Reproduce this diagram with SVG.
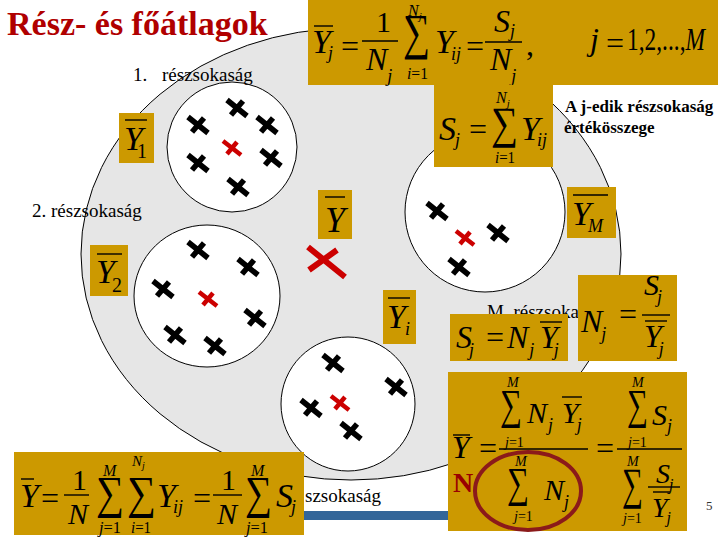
<svg xmlns="http://www.w3.org/2000/svg" xmlns:xlink="http://www.w3.org/1999/xlink" width="720" height="540" viewBox="0 0 720 540">
<style>
.box{fill:#CC9900}
.f{font-family:"Liberation Serif","Times New Roman",serif;fill:#000}
.i{font-style:italic}
.n{font-style:normal}
.bar{stroke:#000;stroke-width:1.4}
.lbl{font-family:"Liberation Serif","Times New Roman",serif;font-size:19px;fill:#000}
.lb{font-family:"Liberation Serif","Times New Roman",serif;font-weight:bold;font-size:17px;fill:#000}
.sub{fill:#fff;stroke:#000;stroke-width:1}
</style>
<defs>
<g id="bx"><path d="M-10,-8L10,8M-6,7L6,-7" stroke="#000" stroke-width="5.5"/></g>
<g id="rx"><path d="M-9,-7L9,7M-5,6L5,-6" stroke="#CC0000" stroke-width="4.5"/></g>
</defs>
<rect width="720" height="540" fill="#fff"/>
<g id="population">
<ellipse cx="351" cy="254" rx="270" ry="226" fill="#E6E6E6" stroke="#000" stroke-width="1"/>
</g>
<g id="title"><text x="7" y="35" font-family="Liberation Serif, serif" font-weight="bold" font-size="34" fill="#B00000">Rész- és főátlagok</text></g>
<g id="sub1">
<circle class="sub" cx="232" cy="147" r="65"/>
<use xlink:href="#bx" x="237" y="108"/><use xlink:href="#bx" x="198" y="125"/><use xlink:href="#bx" x="267" y="125"/>
<use xlink:href="#rx" x="232" y="148"/><use xlink:href="#bx" x="198" y="163"/><use xlink:href="#bx" x="271" y="158"/><use xlink:href="#bx" x="238" y="187"/>
</g>
<g id="sub2">
<ellipse class="sub" cx="207" cy="296" rx="73" ry="71"/>
<use xlink:href="#bx" x="198" y="250"/><use xlink:href="#bx" x="248" y="267"/><use xlink:href="#bx" x="163" y="289"/>
<use xlink:href="#rx" x="208" y="299"/><use xlink:href="#bx" x="255" y="318"/><use xlink:href="#bx" x="175" y="335"/><use xlink:href="#bx" x="215" y="346"/>
</g>
<g id="subM">
<circle class="sub" cx="485" cy="212" r="80"/>
<use xlink:href="#bx" x="437" y="211"/><use xlink:href="#rx" x="465" y="238"/><use xlink:href="#bx" x="498" y="233"/><use xlink:href="#bx" x="459" y="267"/>
</g>
<g id="subI">
<circle class="sub" cx="348" cy="404" r="67"/>
<use xlink:href="#bx" x="333" y="363"/><use xlink:href="#bx" x="396" y="387"/><use xlink:href="#bx" x="311" y="408"/>
<use xlink:href="#rx" x="340" y="403"/><use xlink:href="#bx" x="351" y="431"/>
</g>
<g id="grandmean"><path d="M308,247L345,277M309,270L337,250" stroke="#CC0000" stroke-width="6"/></g>
<g id="labels">
<text class="lbl" x="133" y="81">1.</text><text class="lbl" x="162" y="81">részsokaság</text>
<text class="lb" x="565" y="112">A j-edik részsokaság</text>
<text class="lb" x="564" y="133">értékösszege</text>
<text class="lbl" x="32" y="217">2. részsokaság</text>
<text class="lbl" x="487" y="318">M. részsokas</text>
<text class="lbl" x="305" y="502">szsokaság</text>
</g>
<rect id="bluebar" x="303" y="511" width="147" height="9" fill="#336699"/>
<g id="f-top">
<rect class="box" x="308" y="0" width="410" height="85"/>
<line class="bar" x1="314" y1="26" x2="333" y2="26"/>
<text class="f i" x="312" y="53" font-size="34">Y<tspan dx="-3" dy="6" font-size="18">j</tspan></text>
<text class="f" x="341" y="57" font-size="32">=</text>
<text class="f" x="376" y="32" font-size="30">1</text><line class="bar" x1="362" y1="41" x2="398" y2="41"/>
<text class="f i" x="366" y="70" font-size="32">N<tspan dy="12" font-size="18">j</tspan></text>
<text class="f" x="403" y="49" font-size="50" textLength="27" lengthAdjust="spacingAndGlyphs">∑</text>
<text class="f i" x="408" y="16" font-size="16">N<tspan dy="4" font-size="11">j</tspan></text>
<text class="f" x="407" y="79" font-size="16" textLength="21" lengthAdjust="spacingAndGlyphs"><tspan class="i">i</tspan>=1</text>
<text class="f i" x="435" y="53" font-size="34">Y<tspan dx="-3" dy="7" font-size="18">ij</tspan></text>
<text class="f" x="466" y="57" font-size="32">=</text>
<text class="f i" x="494" y="32" font-size="32">S<tspan dy="5" font-size="18">j</tspan></text>
<line class="bar" x1="485" y1="42" x2="522" y2="42"/>
<text class="f i" x="490" y="70" font-size="32">N<tspan dy="12" font-size="18">j</tspan></text>
<text class="f" x="526" y="55" font-size="32">,</text>
<text class="f i" x="590" y="50" font-size="32">j</text>
<text class="f" x="606" y="54" font-size="32">=</text>
<text class="f" x="627" y="50" font-size="32" textLength="78" lengthAdjust="spacingAndGlyphs">1,2,...,<tspan class="i">M</tspan></text>
</g>
<g id="f-sj">
<rect class="box" x="434" y="85" width="119" height="82"/>
<text class="f i" x="439" y="140" font-size="34">S<tspan dx="-1" dy="6" font-size="18">j</tspan></text>
<text class="f" x="469" y="140" font-size="32">=</text>
<text class="f" x="491" y="138" font-size="45" textLength="27" lengthAdjust="spacingAndGlyphs">∑</text>
<text class="f i" x="496" y="103" font-size="16">N<tspan dy="4" font-size="11">j</tspan></text>
<text class="f" x="495" y="163" font-size="16" textLength="20" lengthAdjust="spacingAndGlyphs"><tspan class="i">i</tspan>=1</text>
<text class="f i" x="521" y="140" font-size="34">Y<tspan dx="-3" dy="6" font-size="18">ij</tspan></text>
</g>
<g id="f-y1"><rect class="box" x="119" y="113" width="35" height="50"/>
<line class="bar" x1="125" y1="120" x2="147" y2="120"/><text class="f i" x="124" y="150" font-size="34">Y<tspan class="n" dx="-6" dy="8" font-size="20">1</tspan></text></g>
<g id="f-y2"><rect class="box" x="90" y="245" width="38" height="51"/>
<line class="bar" x1="97" y1="254" x2="122" y2="254"/><text class="f i" x="96" y="283" font-size="34">Y<tspan class="n" dx="-3" dy="9" font-size="20">2</tspan></text></g>
<g id="f-y"><rect class="box" x="318" y="190" width="34" height="49"/>
<line class="bar" x1="325" y1="197" x2="345" y2="197"/><text class="f i" x="325" y="232" font-size="36">Y</text></g>
<g id="f-ym"><rect class="box" x="567" y="187" width="49" height="51"/>
<line class="bar" x1="573" y1="195" x2="608" y2="195"/><text class="f i" x="572" y="225" font-size="34">Y<tspan dx="-3" dy="7" font-size="18">M</tspan></text></g>
<g id="f-yi"><rect class="box" x="383" y="290" width="33" height="54"/>
<line class="bar" x1="388" y1="298" x2="410" y2="298"/><text class="f i" x="387" y="328" font-size="34">Y<tspan dx="-1" dy="7" font-size="18">i</tspan></text></g>
<g id="f-snj"><rect class="box" x="450" y="314" width="118" height="47"/>
<text class="f i" x="456" y="348" font-size="32">S<tspan dx="-3" dy="8" font-size="18">j</tspan></text>
<text class="f" x="486" y="348" font-size="32">=</text>
<text class="f i" x="507" y="348" font-size="32">N<tspan dx="1" dy="8" font-size="18">j</tspan></text>
<line class="bar" x1="540" y1="322" x2="562" y2="322"/>
<text class="f i" x="540" y="348" font-size="32">Y<tspan dx="-4" dy="8" font-size="18">j</tspan></text>
</g>
<g id="f-nj"><rect class="box" x="578" y="275" width="99" height="86"/>
<text class="f i" x="581" y="332" font-size="32">N<tspan dx="-1" dy="8" font-size="18">j</tspan></text>
<text class="f" x="619" y="325" font-size="32">=</text>
<text class="f i" x="644" y="295" font-size="30">S<tspan dx="-2" dy="8" font-size="18">j</tspan></text>
<line class="bar" x1="642" y1="315" x2="670" y2="315"/><line class="bar" x1="645" y1="321" x2="667" y2="321"/>
<text class="f i" x="644" y="347" font-size="32">Y<tspan dx="-3" dy="8" font-size="18">j</tspan></text>
</g>
<g id="f-grand"><rect class="box" x="14" y="452" width="290" height="83"/>
<line class="bar" x1="21" y1="479" x2="34" y2="479"/><text class="f i" x="20" y="507" font-size="34">Y</text>
<text class="f" x="41" y="509" font-size="32">=</text>
<text class="f" x="72" y="490" font-size="30">1</text><line class="bar" x1="64" y1="495" x2="89" y2="495"/><text class="f i" x="68" y="524" font-size="30">N</text>
<text class="f" x="96" y="508" font-size="46" textLength="28" lengthAdjust="spacingAndGlyphs">∑</text>
<text class="f i" x="103" y="476" font-size="16">M</text><text class="f" x="99" y="533" font-size="16" textLength="22" lengthAdjust="spacingAndGlyphs"><tspan class="i">j</tspan>=1</text>
<text class="f" x="127" y="508" font-size="46" textLength="29" lengthAdjust="spacingAndGlyphs">∑</text>
<text class="f i" x="132" y="466" font-size="15">N<tspan dy="3" font-size="10">j</tspan></text>
<text class="f" x="131" y="533" font-size="16" textLength="20" lengthAdjust="spacingAndGlyphs"><tspan class="i">i</tspan>=1</text>
<text class="f i" x="157" y="507" font-size="34">Y<tspan dx="-3" dy="6" font-size="18">ij</tspan></text>
<text class="f" x="193" y="509" font-size="32">=</text>
<text class="f" x="221" y="490" font-size="30">1</text><line class="bar" x1="213" y1="495" x2="242" y2="495"/><text class="f i" x="217" y="524" font-size="30">N</text>
<text class="f" x="245" y="508" font-size="46" textLength="27" lengthAdjust="spacingAndGlyphs">∑</text>
<text class="f i" x="251" y="476" font-size="16">M</text><text class="f" x="246" y="533" font-size="16" textLength="22" lengthAdjust="spacingAndGlyphs"><tspan class="i">j</tspan>=1</text>
<text class="f i" x="276" y="507" font-size="34">S<tspan dx="-2" dy="6" font-size="18">j</tspan></text>
</g>
<g id="f-weighted"><rect class="box" x="448" y="372" width="239" height="159"/>
<line class="bar" x1="453" y1="435" x2="470" y2="435"/><text class="f i" x="452" y="458" font-size="32">Y</text>
<text class="f" x="479" y="459" font-size="32">=</text>
<text class="f i" x="507" y="387" font-size="14">M</text>
<text class="f" x="500" y="419" font-size="43" textLength="22" lengthAdjust="spacingAndGlyphs">∑</text>
<text class="f" x="505" y="447" font-size="14"><tspan class="i">j</tspan>=1</text>
<text class="f i" x="527" y="423" font-size="30">N<tspan dx="1" dy="8" font-size="18">j</tspan></text>
<line class="bar" x1="562" y1="397" x2="582" y2="397"/>
<text class="f i" x="562" y="423" font-size="30">Y<tspan dx="-2" dy="8" font-size="18">j</tspan></text>
<line class="bar" x1="499" y1="449" x2="588" y2="449"/>
<text class="f i" x="515" y="466" font-size="14">M</text>
<text class="f" x="507" y="497" font-size="43" textLength="22" lengthAdjust="spacingAndGlyphs">∑</text>
<text class="f" x="514" y="521" font-size="14"><tspan class="i">j</tspan>=1</text>
<text class="f i" x="544" y="500" font-size="30">N<tspan dx="0" dy="8" font-size="18">j</tspan></text>
<text class="f" x="596" y="459" font-size="32">=</text>
<text class="f i" x="632" y="387" font-size="14">M</text>
<text class="f" x="627" y="419" font-size="43" textLength="21" lengthAdjust="spacingAndGlyphs">∑</text>
<text class="f" x="628" y="447" font-size="14"><tspan class="i">j</tspan>=1</text>
<text class="f i" x="652" y="425" font-size="30">S<tspan dx="0" dy="7" font-size="18">j</tspan></text>
<line class="bar" x1="617" y1="449" x2="682" y2="449"/>
<text class="f i" x="627" y="466" font-size="14">M</text>
<text class="f" x="622" y="499" font-size="45" textLength="21" lengthAdjust="spacingAndGlyphs">∑</text>
<text class="f" x="623" y="523" font-size="14"><tspan class="i">j</tspan>=1</text>
<text class="f i" x="656" y="483" font-size="28">S<tspan dx="-1" dy="7" font-size="16">j</tspan></text>
<line class="bar" x1="648" y1="487" x2="680" y2="487"/><line class="bar" x1="653" y1="492" x2="670" y2="492"/>
<text class="f i" x="652" y="517" font-size="28">Y<tspan dx="-1" dy="6" font-size="16">j</tspan></text>
<text x="453" y="492" font-family="Liberation Serif, serif" font-weight="bold" font-size="28" fill="#990000">N</text>
<ellipse cx="528" cy="491" rx="53" ry="39" fill="none" stroke="#8B1A1A" stroke-width="4"/>
</g>
<text id="pagenum" x="706" y="510" font-family="Liberation Serif, serif" font-size="13" fill="#333">5</text>
</svg>
